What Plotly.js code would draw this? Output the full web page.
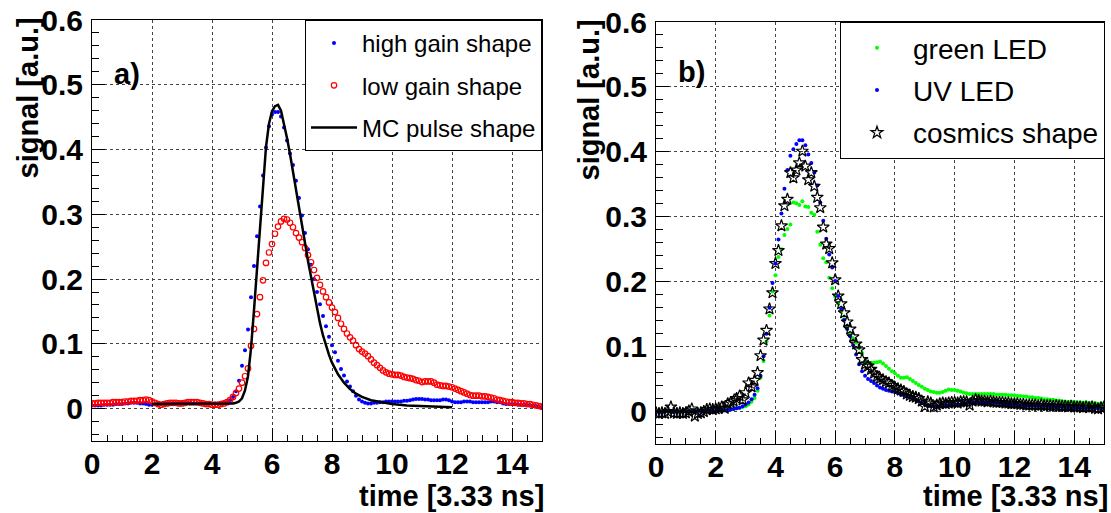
<!DOCTYPE html>
<html>
<head>
<meta charset="utf-8">
<script src="https://cdn.plot.ly/plotly-3.0.1.min.js"></script>
<style>
  html, body { margin: 0; padding: 0; background: #ffffff; }
  #plot { width: 1111px; height: 513px; }
</style>
</head>
<body>
<div id="plot"></div>
<script>
// ---------- DATA ----------
// sample times in units of 3.33 ns
const time = [
  0.0,0.1,0.2,0.3,0.4,0.5,0.6,0.7,0.8,0.9,
  1.0,1.1,1.2,1.3,1.4,1.5,1.6,1.7,1.8,1.9,
  2.0,2.1,2.2,2.3,2.4,2.5,2.6,2.7,2.8,2.9,
  3.0,3.1,3.2,3.3,3.4,3.5,3.6,3.7,3.8,3.9,
  4.0,4.1,4.2,4.3,4.4,4.5,4.6,4.7,4.8,4.9,
  5.0,5.1,5.2,5.3,5.4,5.5,5.6,5.7,5.8,5.9,
  6.0,6.1,6.2,6.3,6.4,6.5,6.6,6.7,6.8,6.9,
  7.0,7.1,7.2,7.3,7.4,7.5,7.6,7.7,7.8,7.9,
  8.0,8.1,8.2,8.3,8.4,8.5,8.6,8.7,8.8,8.9,
  9.0,9.1,9.2,9.3,9.4,9.5,9.6,9.7,9.8,9.9,
  10.0,10.1,10.2,10.3,10.4,10.5,10.6,10.7,10.8,10.9,
  11.0,11.1,11.2,11.3,11.4,11.5,11.6,11.7,11.8,11.9,
  12.0,12.1,12.2,12.3,12.4,12.5,12.6,12.7,12.8,12.9,
  13.0,13.1,13.2,13.3,13.4,13.5,13.6,13.7,13.8,13.9,
  14.0,14.1,14.2,14.3,14.4,14.5,14.6,14.7,14.8,14.9,
  15.0
];

// panel a) high gain shape (blue dots)
const highGain = [
  0.005,0.005,0.005,0.005,0.006,0.006,0.006,0.006,0.007,0.007,
  0.007,0.008,0.008,0.009,0.009,0.009,0.008,0.008,0.007,0.006,
  0.006,0.007,0.007,0.007,0.008,0.008,0.008,0.008,0.008,0.008,
  0.008,0.008,0.009,0.008,0.008,0.008,0.008,0.008,0.008,0.008,
  0.008,0.008,0.008,0.009,0.009,0.010,0.013,0.018,0.027,0.043,
  0.066,0.090,0.122,0.172,0.220,0.266,0.312,0.360,0.403,0.436,
  0.454,0.458,0.458,0.451,0.434,0.414,0.394,0.376,0.352,0.325,
  0.298,0.271,0.246,0.222,0.200,0.180,0.161,0.143,0.127,0.111,
  0.098,0.087,0.074,0.061,0.051,0.042,0.034,0.027,0.020,0.014,
  0.011,0.009,0.008,0.008,0.009,0.009,0.010,0.010,0.011,0.011,
  0.011,0.011,0.011,0.011,0.012,0.012,0.013,0.014,0.015,0.015,
  0.015,0.014,0.014,0.013,0.013,0.013,0.013,0.014,0.014,0.013,
  0.011,0.010,0.010,0.010,0.011,0.011,0.011,0.010,0.010,0.010,
  0.010,0.010,0.010,0.011,0.011,0.010,0.010,0.008,0.007,0.007,
  0.007,0.007,0.006,0.006,0.006,0.006,0.005,0.005,0.004,0.003,
  0.001
];

// panel a) low gain shape (red open circles)
const lowGain = [
  0.008,0.008,0.009,0.009,0.009,0.009,0.009,0.010,0.010,0.010,
  0.010,0.011,0.011,0.012,0.012,0.012,0.013,0.013,0.014,0.013,
  0.011,0.009,0.007,0.006,0.007,0.008,0.009,0.009,0.009,0.008,
  0.008,0.009,0.010,0.010,0.010,0.010,0.009,0.008,0.007,0.007,
  0.006,0.006,0.006,0.007,0.008,0.010,0.013,0.018,0.024,0.031,
  0.040,0.050,0.062,0.097,0.123,0.146,0.172,0.198,0.225,0.241,
  0.254,0.270,0.281,0.289,0.293,0.292,0.287,0.280,0.271,0.264,
  0.257,0.248,0.237,0.226,0.214,0.202,0.191,0.181,0.172,0.164,
  0.156,0.149,0.140,0.131,0.123,0.116,0.110,0.105,0.098,0.092,
  0.088,0.085,0.081,0.076,0.071,0.067,0.063,0.059,0.056,0.054,
  0.053,0.052,0.052,0.051,0.049,0.048,0.047,0.046,0.044,0.043,
  0.041,0.042,0.042,0.042,0.040,0.037,0.036,0.035,0.035,0.034,
  0.033,0.031,0.029,0.027,0.025,0.023,0.021,0.020,0.020,0.020,
  0.019,0.019,0.018,0.017,0.016,0.014,0.013,0.012,0.011,0.010,
  0.010,0.009,0.009,0.008,0.008,0.007,0.007,0.006,0.005,0.004,
  0.003
];

// panel a) MC pulse shape (black line)
const mcTime = [
  2.0,3.0,4.0,4.5,4.7,4.8,4.9,5.0,5.1,5.2,5.3,5.4,5.5,5.6,5.7,5.8,5.9,
  6.0,6.1,6.2,6.3,6.4,6.5,6.6,6.7,6.8,6.9,7.0,7.1,7.2,7.3,7.4,7.5,7.6,
  7.7,7.8,7.9,8.0,8.2,8.4,8.6,8.8,9.0,9.3,9.6,10.0,10.5,11.0,11.5,12.0
];
const mcSignal = [
  0.007,0.007,0.007,0.007,0.008,0.009,0.011,0.016,0.028,0.050,0.093,0.152,0.215,0.290,0.353,0.404,0.440,
  0.459,0.467,0.469,0.460,0.441,0.418,0.393,0.366,0.342,0.316,0.288,0.256,0.228,0.203,0.178,0.154,0.132,
  0.113,0.097,0.083,0.071,0.053,0.040,0.030,0.023,0.018,0.013,0.010,0.007,0.005,0.004,0.003,0.002
];

// panel b) green LED (green dots)
const greenLed = [
  0.001,0.000,0.000,0.001,0.001,0.000,0.001,0.001,0.000,0.001,
  0.001,0.001,0.002,0.001,0.001,0.002,0.002,0.002,0.002,0.002,
  0.002,0.002,0.003,0.003,0.003,0.003,0.004,0.005,0.006,0.007,
  0.008,0.011,0.015,0.021,0.032,0.052,0.078,0.108,0.148,0.185,
  0.210,0.238,0.250,0.272,0.281,0.288,0.322,0.321,0.318,0.324,
  0.316,0.315,0.306,0.303,0.277,0.257,0.236,0.230,0.206,0.190,
  0.177,0.166,0.154,0.142,0.130,0.120,0.113,0.106,0.098,0.090,
  0.077,0.075,0.075,0.075,0.076,0.077,0.074,0.070,0.066,0.062,
  0.059,0.055,0.052,0.052,0.053,0.050,0.047,0.044,0.041,0.038,
  0.035,0.033,0.031,0.030,0.029,0.029,0.030,0.032,0.034,0.033,
  0.033,0.032,0.031,0.029,0.028,0.027,0.027,0.027,0.027,0.027,
  0.027,0.027,0.027,0.027,0.026,0.026,0.026,0.026,0.025,0.025,
  0.025,0.024,0.024,0.023,0.023,0.022,0.022,0.021,0.021,0.020,
  0.019,0.019,0.018,0.018,0.017,0.017,0.016,0.015,0.015,0.015,
  0.015,0.014,0.014,0.014,0.014,0.013,0.013,0.013,0.012,0.012,
  0.012
];

// panel b) UV LED (blue dots)
const uvLed = [
  -0.001,0.000,-0.001,0.000,0.001,0.000,-0.001,0.000,0.000,0.001,
  0.000,0.000,0.001,0.001,0.000,0.001,0.001,0.002,0.002,0.001,
  0.001,0.002,0.002,0.002,0.002,0.003,0.004,0.005,0.006,0.008,
  0.011,0.014,0.019,0.026,0.036,0.055,0.085,0.120,0.160,0.198,
  0.228,0.265,0.305,0.343,0.372,0.394,0.404,0.412,0.418,0.418,
  0.410,0.396,0.383,0.368,0.348,0.322,0.294,0.266,0.242,0.222,
  0.201,0.178,0.158,0.141,0.127,0.116,0.102,0.088,0.073,0.062,
  0.055,0.050,0.047,0.044,0.040,0.037,0.035,0.033,0.032,0.031,
  0.030,0.028,0.026,0.025,0.023,0.022,0.020,0.018,0.016,0.013,
  0.011,0.009,0.008,0.008,0.008,0.008,0.009,0.010,0.010,0.010,
  0.010,0.011,0.011,0.012,0.013,0.013,0.014,0.014,0.014,0.014,
  0.014,0.014,0.014,0.014,0.013,0.013,0.012,0.011,0.011,0.010,
  0.010,0.010,0.009,0.009,0.009,0.009,0.009,0.009,0.008,0.008,
  0.008,0.008,0.007,0.007,0.007,0.007,0.007,0.006,0.006,0.005,
  0.005,0.005,0.005,0.005,0.005,0.005,0.005,0.005,0.005,0.005,
  0.005
];

// panel b) cosmics shape (black open stars)
const cosmics = [
  -0.002,-0.003,-0.002,-0.003,0.000,0.007,-0.002,-0.003,-0.002,-0.003,
  -0.002,0.001,0.004,-0.007,-0.003,-0.002,0.000,0.003,0.004,0.003,
  0.004,0.005,0.007,0.005,0.012,0.014,0.016,0.020,0.024,0.018,
  0.029,0.044,0.038,0.048,0.060,0.086,0.110,0.125,0.158,0.183,
  0.228,0.248,0.286,0.317,0.327,0.368,0.360,0.372,0.383,0.401,
  0.378,0.357,0.368,0.347,0.330,0.314,0.284,0.258,0.251,0.229,
  0.203,0.178,0.166,0.152,0.138,0.127,0.115,0.104,0.095,0.080,
  0.073,0.070,0.065,0.059,0.054,0.051,0.049,0.046,0.044,0.040,
  0.037,0.035,0.033,0.031,0.027,0.025,0.023,0.022,0.020,0.016,
  0.008,0.015,0.013,0.007,0.010,0.012,0.013,0.012,0.013,0.014,
  0.014,0.013,0.015,0.015,0.015,0.010,0.016,0.018,0.017,0.016,
  0.016,0.015,0.016,0.015,0.014,0.014,0.014,0.013,0.013,0.012,
  0.012,0.012,0.011,0.011,0.010,0.010,0.010,0.010,0.009,0.010,
  0.009,0.009,0.009,0.008,0.009,0.008,0.008,0.008,0.007,0.008,
  0.007,0.007,0.007,0.006,0.007,0.006,0.007,0.005,0.004,0.006,
  0.007
];

const legendA = ["high gain shape", "low gain shape", "MC pulse shape"];
const legendB = ["green LED", "UV LED", "cosmics shape"];
const panelLabels = ["a)", "b)"];
const xTitle = "time [3.33 ns]";
const yTitle = "signal [a.u.]";

// ---------- STYLE ----------
const FONT = "Liberation Sans, Arial, Helvetica, sans-serif";
const W = 1111, H = 513;
const px = v => v / W;
const py = v => 1 - v / H;

const traces = [
  { x: time, y: highGain, type: 'scatter', mode: 'markers', name: legendA[0],
    xaxis: 'x', yaxis: 'y', legend: 'legend', legendgroup: 'a1',
    marker: { symbol: 'circle', size: 4, color: '#0000ff' } },
  { x: time, y: lowGain, type: 'scatter', mode: 'markers', name: legendA[1],
    xaxis: 'x', yaxis: 'y', legend: 'legend', legendgroup: 'a2',
    marker: { symbol: 'circle-open', size: 5.5, color: '#ff0000', line: { width: 1.2, color: '#ff0000' } } },
  { x: mcTime, y: mcSignal, type: 'scatter', mode: 'lines', name: legendA[2],
    xaxis: 'x', yaxis: 'y', legend: 'legend', legendgroup: 'a3',
    line: { color: '#000000', width: 2.5 } },
  { x: time, y: greenLed, type: 'scatter', mode: 'markers', name: legendB[0],
    xaxis: 'x2', yaxis: 'y2', legend: 'legend2', legendgroup: 'b1',
    marker: { symbol: 'circle', size: 4, color: '#00ff00' } },
  { x: time, y: uvLed, type: 'scatter', mode: 'markers', name: legendB[1],
    xaxis: 'x2', yaxis: 'y2', legend: 'legend2', legendgroup: 'b2',
    marker: { symbol: 'circle', size: 4, color: '#0000ff' } },
  { x: time, y: cosmics, type: 'scatter', mode: 'markers', name: legendB[2],
    xaxis: 'x2', yaxis: 'y2', legend: 'legend2', legendgroup: 'b3',
    marker: { symbol: 'star-open', size: 9, color: '#000000', line: { width: 1.2, color: '#000000' } } }
];

const tickFont = { family: FONT, size: 30, color: '#000', weight: 'bold' };

function xAxis(domain, anchor) {
  return {
    domain: domain, anchor: anchor, range: [0, 15], autorange: false,
    tick0: 0, dtick: 2, ticks: 'inside', ticklen: 13, tickwidth: 1, tickcolor: '#000',
    minor: { dtick: 0.5, ticks: 'inside', ticklen: 6, tickwidth: 1, tickcolor: '#000', showgrid: false },
    showline: true, linecolor: '#000', linewidth: 1, mirror: true,
    showgrid: true, gridcolor: '#444', griddash: 'dot', gridwidth: 1,
    zeroline: false, automargin: false, ticklabelstandoff: -4,
    tickfont: tickFont
  };
}
function yAxis(domain, anchor) {
  return {
    domain: domain, anchor: anchor, range: [-0.05, 0.6], autorange: false,
    tick0: 0, dtick: 0.1, ticks: 'inside', ticklen: 13, tickwidth: 1, tickcolor: '#000',
    minor: { dtick: 0.02, ticks: 'inside', ticklen: 7, tickwidth: 1, tickcolor: '#000', showgrid: false },
    showline: true, linecolor: '#000', linewidth: 1, mirror: true,
    showgrid: true, gridcolor: '#444', griddash: 'dot', gridwidth: 1,
    zeroline: false, automargin: false, ticklabelstandoff: 2,
    tickfont: tickFont
  };
}

const boldFont = { family: FONT, size: 29, color: '#000', weight: 'bold' };

const layout = {
  width: W, height: H,
  margin: { l: 0, r: 0, t: 0, b: 0, pad: 0 },
  paper_bgcolor: '#ffffff', plot_bgcolor: '#ffffff',
  showlegend: true,
  xaxis: xAxis([px(92), px(542)], 'y'),
  yaxis: yAxis([1 - 441 / H, 1 - 20 / H], 'x'),
  xaxis2: xAxis([px(656), px(1104)], 'y2'),
  yaxis2: yAxis([1 - 444 / H, 1 - 22 / H], 'x2'),
  legend: {
    x: px(542), xanchor: 'right', y: py(20), yanchor: 'top',
    xref: 'paper', yref: 'paper',
    bgcolor: '#ffffff', bordercolor: '#000', borderwidth: 1,
    font: { family: FONT, size: 24, color: '#000' },
    itemwidth: 46, tracegroupgap: 8, traceorder: 'grouped', valign: 'middle'
  },
  legend2: {
    x: px(1105), xanchor: 'right', y: py(22), yanchor: 'top',
    xref: 'paper', yref: 'paper',
    bgcolor: '#ffffff', bordercolor: '#000', borderwidth: 1,
    font: { family: FONT, size: 28, color: '#000' },
    itemwidth: 62, tracegroupgap: 3, traceorder: 'grouped', valign: 'middle'
  },
  annotations: [
    { text: panelLabels[0], xref: 'paper', yref: 'paper', x: px(127), y: py(74),
      xanchor: 'center', yanchor: 'middle', showarrow: false, font: boldFont },
    { text: panelLabels[1], xref: 'paper', yref: 'paper', x: px(691), y: py(72),
      xanchor: 'center', yanchor: 'middle', showarrow: false, font: boldFont },
    { text: yTitle, xref: 'paper', yref: 'paper', x: px(27), y: py(16),
      xanchor: 'center', yanchor: 'top', textangle: -90, showarrow: false, font: boldFont },
    { text: yTitle, xref: 'paper', yref: 'paper', x: px(588), y: py(18),
      xanchor: 'center', yanchor: 'top', textangle: -90, showarrow: false, font: boldFont },
    { text: xTitle, xref: 'paper', yref: 'paper', x: px(546), y: py(496),
      xanchor: 'right', yanchor: 'middle', showarrow: false, font: boldFont },
    { text: xTitle, xref: 'paper', yref: 'paper', x: px(1110), y: py(496),
      xanchor: 'right', yanchor: 'middle', showarrow: false, font: boldFont }
  ]
};

Plotly.newPlot('plot', traces, layout, { staticPlot: true, displayModeBar: false });
</script>
</body>
</html>
